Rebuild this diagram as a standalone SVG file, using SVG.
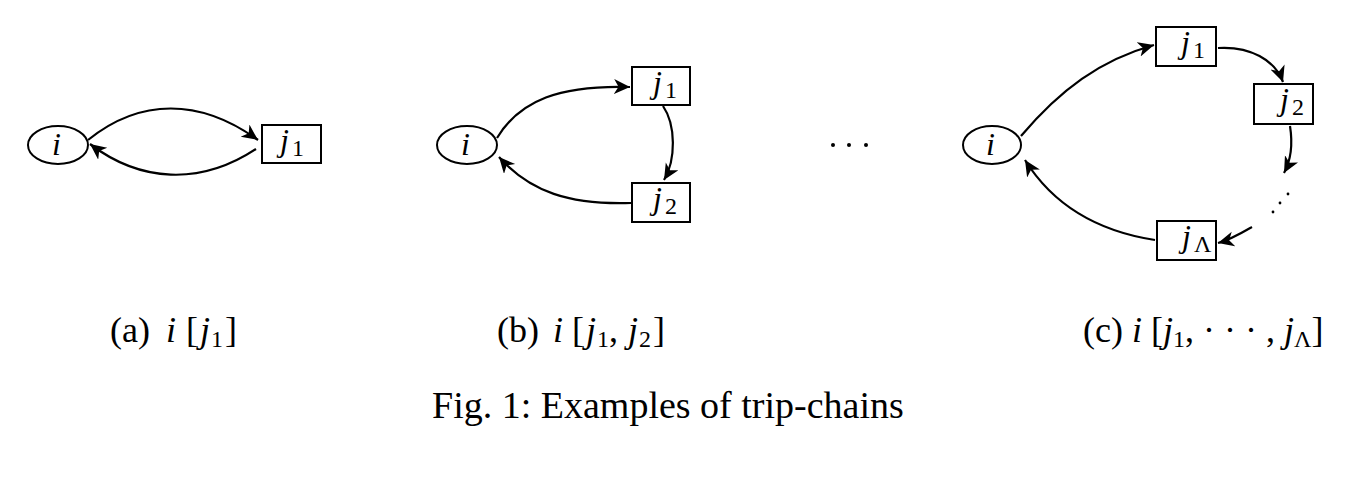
<svg xmlns="http://www.w3.org/2000/svg" width="1346" height="498" viewBox="0 0 1346 498">
<style>
.node{fill:#fff;stroke:#000;stroke-width:2}
.edge{fill:none;stroke:#000;stroke-width:2.2;marker-end:url(#ah)}
.n{font-family:"Liberation Serif","DejaVu Serif",serif;font-size:32px;fill:#000}
.t{font-family:"Liberation Serif","DejaVu Serif",serif;font-size:36px;fill:#000}
.m{font-style:italic}
.s{font-size:24px}
.cap{font-family:"Liberation Serif","DejaVu Serif",serif;font-size:38px;fill:#000}
</style>
<defs>
<marker id="ah" markerUnits="userSpaceOnUse" markerWidth="20" markerHeight="18" refX="16" refY="7.5" orient="auto">
<path d="M0,0 L16,7.5 L0,15 L4.5,7.5 Z" fill="#000"/>
</marker>
</defs>
<rect width="1346" height="498" fill="#fff"/>
<g id="edges">
<path class="edge" d="M88 140 C140 98, 200 98, 258 140"/>
<path class="edge" d="M256 149 C200 186, 140 182, 90 144"/>
<path class="edge" d="M497 138 C520 100, 560 85, 630 87"/>
<path class="edge" d="M663 106 C676 125, 676 160, 664 180"/>
<path class="edge" d="M631 203 C570 205, 530 192, 499 157"/>
<path class="edge" d="M1021 136 C1060 90, 1100 60, 1154 45"/>
<path class="edge" d="M1218 48 C1250 46, 1275 60, 1283 82"/>
<path class="edge" d="M1290 126 C1293 145, 1291 160, 1284 173"/>
<path class="edge" d="M1252 227 C1240 234, 1230 240, 1218 243"/>
<path class="edge" d="M1155 240 C1090 230, 1050 200, 1025 160"/>
</g>
<g id="a-i"><ellipse class="node" cx="58" cy="145" rx="30" ry="19"/><text class="n m" x="52" y="155">i</text></g>
<g id="a-j1"><rect class="node" x="262" y="125" width="59" height="38"/><text class="n" x="280" y="151"><tspan class="m">j</tspan><tspan class="s" dx="3" dy="5">1</tspan></text></g>
<g id="b-i"><ellipse class="node" cx="467" cy="145" rx="30" ry="19"/><text class="n m" x="461" y="155">i</text></g>
<g id="b-j1"><rect class="node" x="632" y="67" width="58" height="38"/><text class="n" x="653" y="93"><tspan class="m">j</tspan><tspan class="s" dx="3" dy="5">1</tspan></text></g>
<g id="b-j2"><rect class="node" x="632" y="183" width="58" height="39"/><text class="n" x="653" y="209"><tspan class="m">j</tspan><tspan class="s" dx="3" dy="5">2</tspan></text></g>
<g id="c-i"><ellipse class="node" cx="992" cy="145" rx="29" ry="19"/><text class="n m" x="986" y="155">i</text></g>
<g id="c-j1"><rect class="node" x="1156" y="27" width="60" height="39"/><text class="n" x="1181" y="53"><tspan class="m">j</tspan><tspan class="s" dx="3" dy="5">1</tspan></text></g>
<g id="c-j2"><rect class="node" x="1254" y="84" width="59" height="40"/><text class="n" x="1280" y="110"><tspan class="m">j</tspan><tspan class="s" dx="3" dy="5">2</tspan></text></g>
<g id="c-jL"><rect class="node" x="1157" y="221" width="59" height="39"/><text class="n" x="1182" y="247"><tspan class="m">j</tspan><tspan class="s" dx="3" dy="5">Λ</tspan></text></g>
<g id="dots">
<circle cx="833" cy="145" r="2"/><circle cx="849" cy="145" r="2"/><circle cx="866" cy="145" r="2"/>
<circle cx="1273" cy="212" r="1.4"/><circle cx="1280" cy="203" r="1.4"/><circle cx="1288" cy="194" r="1.4"/>
</g>
<g id="labels">
<text class="t" x="110" y="342">(a)<tspan class="m" dx="16">i</tspan><tspan dx="10">[</tspan><tspan class="m" dx="2">j</tspan><tspan class="s" dx="1" dy="5">1</tspan><tspan dx="2" dy="-5">]</tspan></text>
<text class="t" x="497" y="342">(b)<tspan class="m" dx="14">i</tspan><tspan dx="9">[</tspan><tspan class="m" dx="2">j</tspan><tspan class="s" dx="1" dy="5">1</tspan><tspan dy="-5">,</tspan><tspan class="m" dx="10">j</tspan><tspan class="s" dx="1" dy="5">2</tspan><tspan dx="2" dy="-5">]</tspan></text>
<text class="t" x="1083" y="342">(c) <tspan class="m">i</tspan> [<tspan class="m">j</tspan><tspan class="s" dy="5">1</tspan><tspan dy="-5">, · · · , </tspan><tspan class="m">j</tspan><tspan class="s" dy="5">Λ</tspan><tspan dy="-5">]</tspan></text>
<text class="cap" x="432" y="418">Fig. 1: Examples of trip-chains</text>
</g>
</svg>
